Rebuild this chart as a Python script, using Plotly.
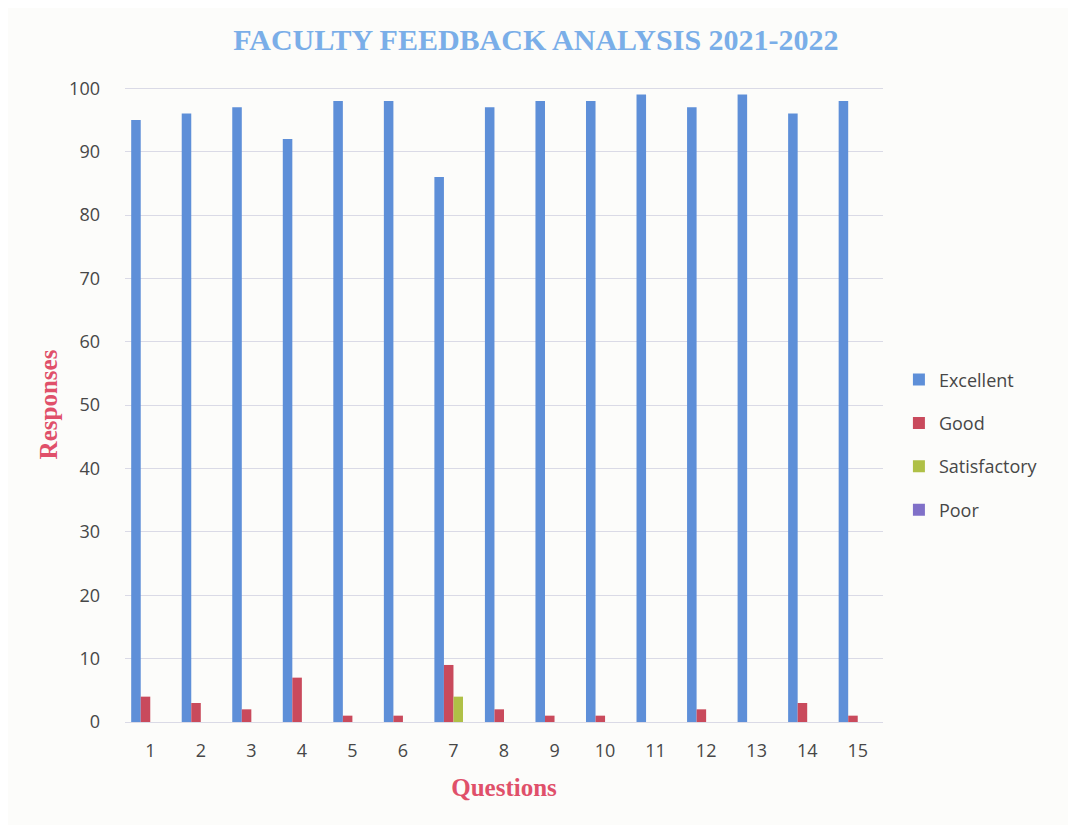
import plotly.graph_objects as go

questions = [str(i) for i in range(1, 16)]
excellent = [95, 96, 97, 92, 98, 98, 86, 97, 98, 98, 99, 97, 99, 96, 98]
good = [4, 3, 2, 7, 1, 1, 9, 2, 1, 1, 0, 2, 0, 3, 1]
satisfactory = [0, 0, 0, 0, 0, 0, 4, 0, 0, 0, 0, 0, 0, 0, 0]
poor = [0] * 15

series = [
    ("Excellent", excellent, "#5E8FD8"),
    ("Good", good, "#C94A5C"),
    ("Satisfactory", satisfactory, "#AFC046"),
    ("Poor", poor, "#8070C8"),
]

fig = go.Figure()
for name, vals, col in series:
    fig.add_trace(go.Bar(x=questions, y=vals, name=name, marker_color=col,
                         marker_line_width=0, legendgroup=name))

title_font = dict(family="Liberation Serif, Times New Roman, serif", size=25, color="#E0506A")
tick_font = dict(family="Open Sans, Liberation Sans, sans-serif", size=18, color="#474747")

fig.update_layout(
    width=1060, height=817,
    paper_bgcolor="#FCFCFA", plot_bgcolor="#FCFCFA",
    margin=dict(l=117, r=185, t=79, b=103),
    barmode="group", bargap=0.245, bargroupgap=0,
    title=dict(text="<b>FACULTY FEEDBACK ANALYSIS 2021-2022</b>",
               x=0.498, xanchor="center", y=0.962, yanchor="middle",
               font=dict(family="Liberation Serif, Times New Roman, serif", size=30, color="#7AAEE8")),
    xaxis=dict(title=dict(text="<b>Questions</b>", font=title_font, standoff=17),
               tickfont=tick_font, ticklabelstandoff=16,
               showgrid=False, showline=False, ticks=""),
    yaxis=dict(title=dict(text="<b>Responses</b>", font=title_font, standoff=4),
               range=[0, 100.2], tickvals=list(range(0, 101, 10)),
               tickfont=tick_font,
               gridcolor="#DADAE6", gridwidth=1, zeroline=True, zerolinecolor="#DADAE6",
               zerolinewidth=1, showline=False, ticks="", ticklabelstandoff=24),
    legend=dict(x=1.021, xanchor="left", y=0.568, yanchor="top",
                font=dict(family="Open Sans, Liberation Sans, sans-serif", size=18, color="#474747"),
                tracegroupgap=17, traceorder="grouped", bgcolor="rgba(0,0,0,0)"),
    showlegend=True,
)

fig.write_html("out.html")
